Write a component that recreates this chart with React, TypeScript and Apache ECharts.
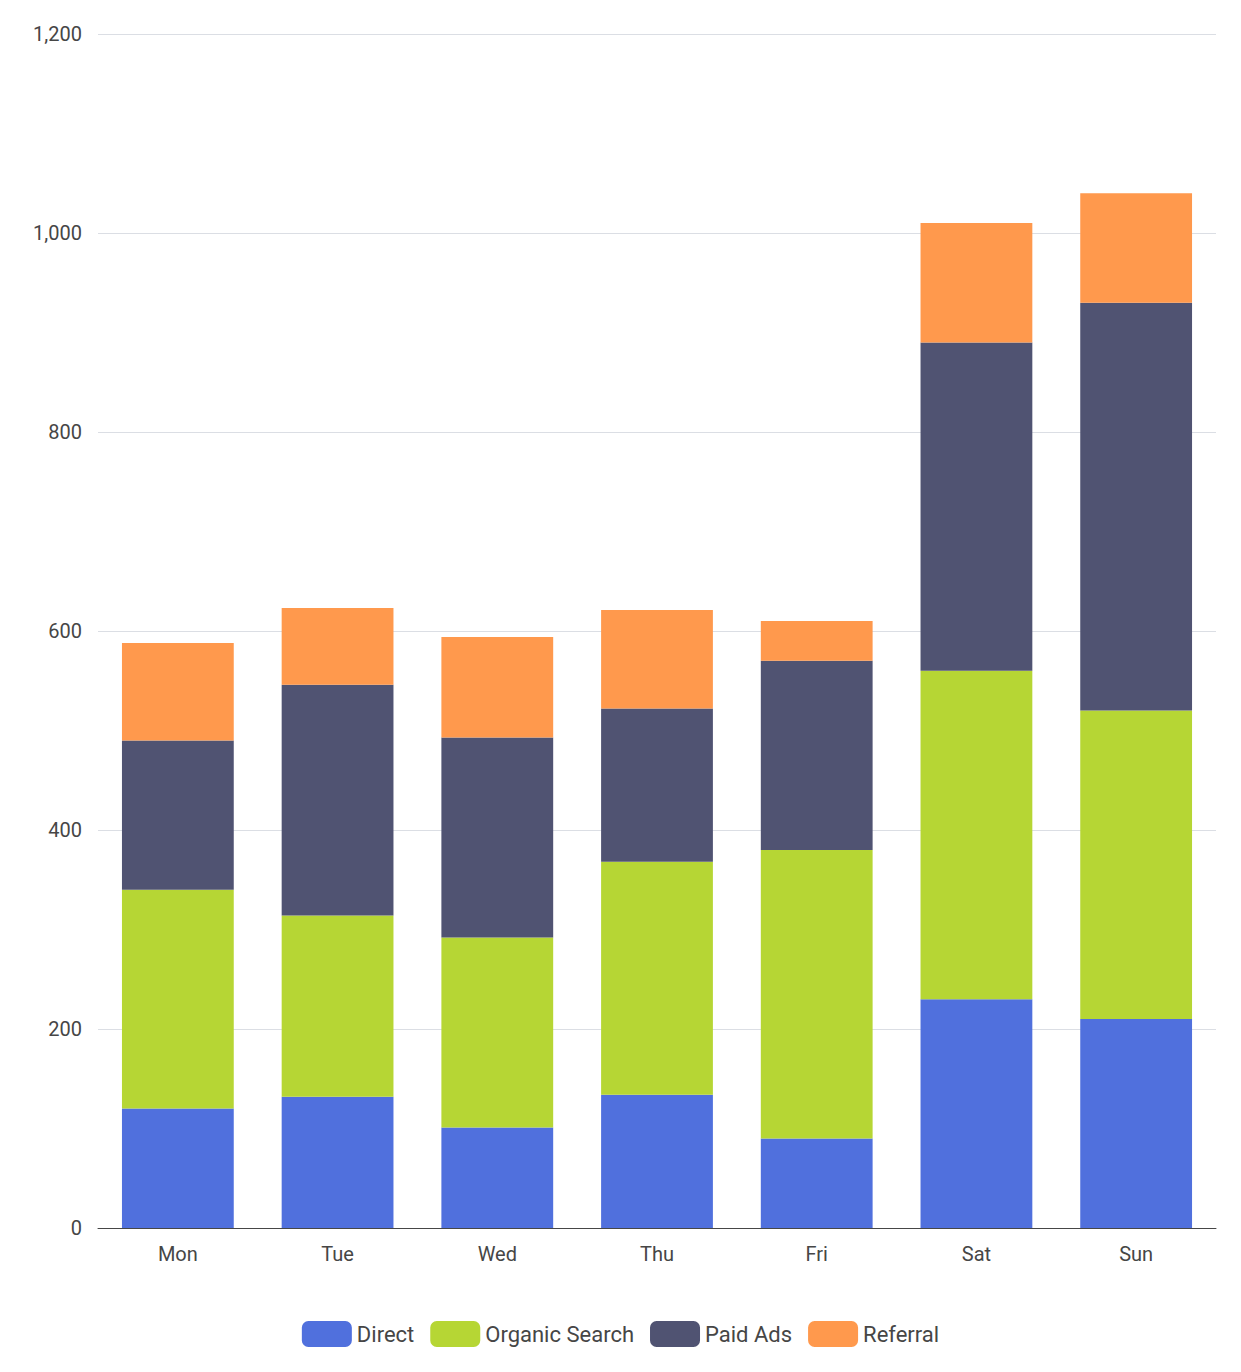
import React, { useRef, useEffect } from 'react'
import * as echarts from 'echarts'

const days = ['Mon', 'Tue', 'Wed', 'Thu', 'Fri', 'Sat', 'Sun']
const direct = [120, 132, 101, 134, 90, 230, 210]
const organic = [220, 182, 191, 234, 290, 330, 310]
const paid = [150, 232, 201, 154, 190, 330, 410]
const referral = [98, 77, 101, 99, 40, 120, 110]

const App: React.FC = () => {
  const chartRef = useRef<HTMLDivElement>(null)

  useEffect(() => {
    if (!chartRef.current) return
    const chart = echarts.init(chartRef.current, undefined, { renderer: 'svg' })
    const mk = (name: string, data: number[], color: string) => ({
      name,
      type: 'bar',
      stack: 'total',
      barWidth: '70%',
      data,
      itemStyle: { color },
    })
    chart.setOption({
      animation: false,
      textStyle: { fontFamily: 'Roboto, sans-serif' },
      grid: { left: 90, right: 17, top: 26, bottom: 136 },
      legend: {
        bottom: 12,
        itemWidth: 50,
        itemHeight: 26,
        itemGap: 16,
        textStyle: { fontSize: 22, color: '#464646' },
      },
      xAxis: {
        type: 'category',
        data: days,
        axisTick: { show: false },
        axisLine: { lineStyle: { color: '#464646' } },
        axisLabel: { fontSize: 20, color: '#464646', margin: 16 },
      },
      yAxis: {
        type: 'value',
        min: 0,
        max: 1200,
        interval: 200,
        axisLabel: { fontSize: 20, color: '#464646', margin: 16 },
        splitLine: { lineStyle: { color: '#dbdee4' } },
      },
      series: [
        mk('Direct', direct, '#5070dd'),
        mk('Organic Search', organic, '#b6d634'),
        mk('Paid Ads', paid, '#505372'),
        mk('Referral', referral, '#ff994d'),
      ],
    })
    return () => chart.dispose()
  }, [])

  return <div ref={chartRef} style={{ width: '100%', height: '1356px' }} />
}

export default App
